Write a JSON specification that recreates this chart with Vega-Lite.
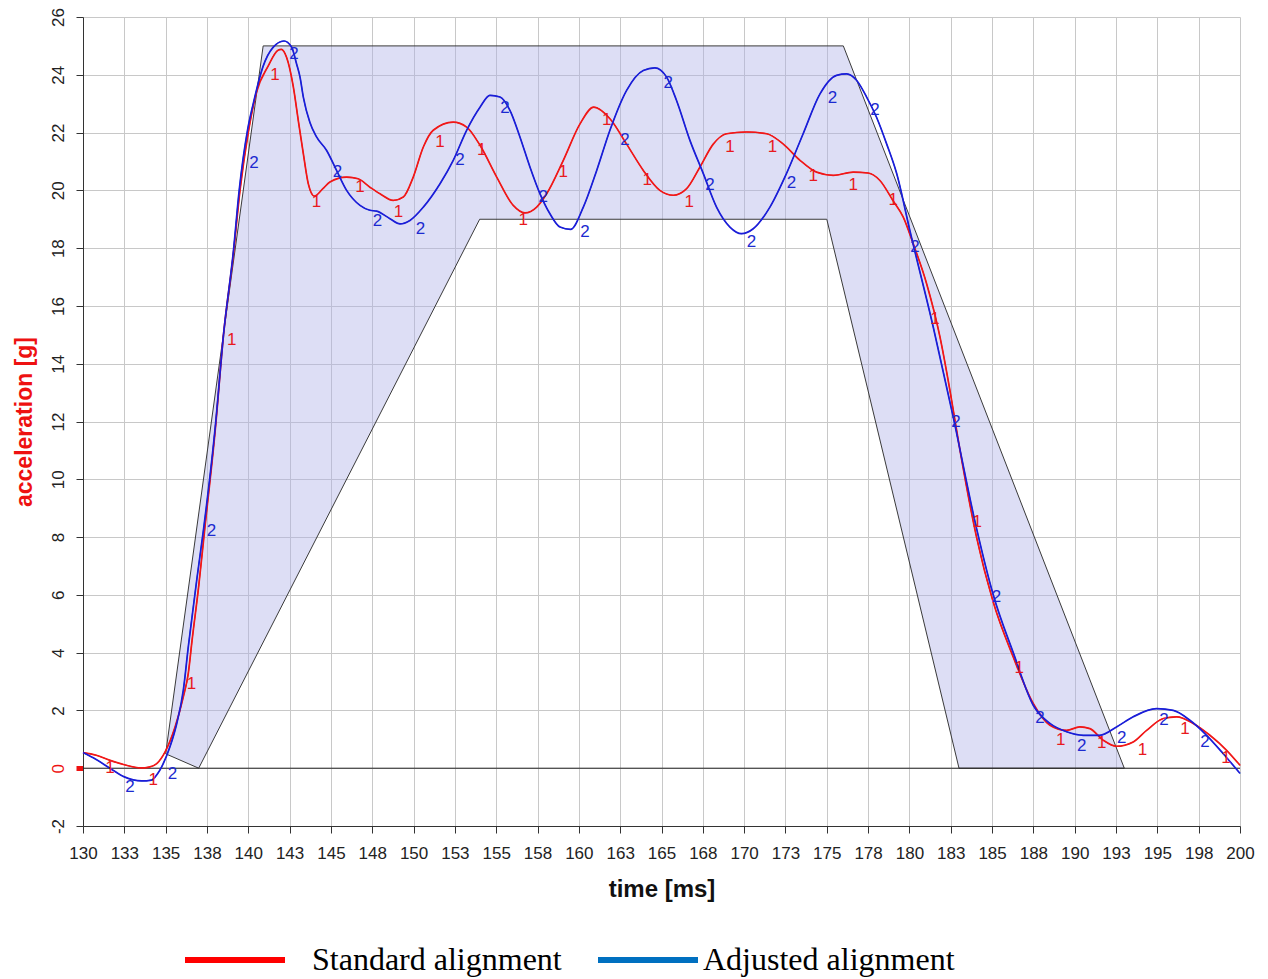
{
  "$schema": "https://vega.github.io/schema/vega-lite/v6.json",
  "width": 1157,
  "height": 809,
  "autosize": {"type": "none"},
  "padding": {"left": 83, "top": 17, "right": 28, "bottom": 153},
  "background": "white",
  "config": {"view": {"stroke": null}, "font": "Liberation Sans"},
  "datasets": {
    "corridor": [
      {"t": 135, "upper": 0.5, "lower": 0.5},
      {"t": 137, "upper": 8.8, "lower": 0},
      {"t": 140.9, "upper": 25, "lower": 4.36},
      {"t": 154, "upper": 25, "lower": 19},
      {"t": 175, "upper": 25, "lower": 19},
      {"t": 176, "upper": 25, "lower": 16.63},
      {"t": 183, "upper": 14.71, "lower": 0},
      {"t": 193, "upper": 0, "lower": 0}
    ],
    "outline": [
      {"i": 0, "t": 135, "a": 0.5},
      {"i": 1, "t": 140.9, "a": 25},
      {"i": 2, "t": 176, "a": 25},
      {"i": 3, "t": 193, "a": 0},
      {"i": 4, "t": 183, "a": 0},
      {"i": 5, "t": 175, "a": 19},
      {"i": 6, "t": 154, "a": 19},
      {"i": 7, "t": 137, "a": 0},
      {"i": 8, "t": 135, "a": 0.5}
    ],
    "curves": [
      {"series": "Standard alignment", "t": 130.0, "a": 0.54},
      {"series": "Standard alignment", "t": 130.8, "a": 0.45},
      {"series": "Standard alignment", "t": 131.6, "a": 0.28},
      {"series": "Standard alignment", "t": 132.5, "a": 0.12},
      {"series": "Standard alignment", "t": 133.5, "a": 0.01},
      {"series": "Standard alignment", "t": 134.0, "a": 0.04},
      {"series": "Standard alignment", "t": 134.46, "a": 0.16},
      {"series": "Standard alignment", "t": 134.96, "a": 0.56},
      {"series": "Standard alignment", "t": 135.57, "a": 1.43},
      {"series": "Standard alignment", "t": 136.07, "a": 2.47},
      {"series": "Standard alignment", "t": 136.37, "a": 3.28},
      {"series": "Standard alignment", "t": 136.6, "a": 4.43},
      {"series": "Standard alignment", "t": 137.0, "a": 6.3},
      {"series": "Standard alignment", "t": 137.35, "a": 8.2},
      {"series": "Standard alignment", "t": 138.0, "a": 11.7},
      {"series": "Standard alignment", "t": 138.5, "a": 15.0},
      {"series": "Standard alignment", "t": 139.1, "a": 17.8},
      {"series": "Standard alignment", "t": 139.5, "a": 20.0},
      {"series": "Standard alignment", "t": 140.0, "a": 22.0},
      {"series": "Standard alignment", "t": 140.5, "a": 23.4},
      {"series": "Standard alignment", "t": 141.2, "a": 24.3},
      {"series": "Standard alignment", "t": 141.8, "a": 24.85},
      {"series": "Standard alignment", "t": 142.0, "a": 24.88},
      {"series": "Standard alignment", "t": 142.32, "a": 24.6},
      {"series": "Standard alignment", "t": 142.72, "a": 23.6},
      {"series": "Standard alignment", "t": 143.03, "a": 22.4},
      {"series": "Standard alignment", "t": 143.33, "a": 21.27},
      {"series": "Standard alignment", "t": 143.63, "a": 20.23},
      {"series": "Standard alignment", "t": 144.0, "a": 19.8},
      {"series": "Standard alignment", "t": 144.5, "a": 20.05},
      {"series": "Standard alignment", "t": 144.94, "a": 20.29},
      {"series": "Standard alignment", "t": 145.95, "a": 20.46},
      {"series": "Standard alignment", "t": 146.65, "a": 20.4},
      {"series": "Standard alignment", "t": 147.36, "a": 20.11},
      {"series": "Standard alignment", "t": 147.97, "a": 19.88},
      {"series": "Standard alignment", "t": 148.77, "a": 19.65},
      {"series": "Standard alignment", "t": 149.38, "a": 19.77},
      {"series": "Standard alignment", "t": 149.98, "a": 20.46},
      {"series": "Standard alignment", "t": 150.59, "a": 21.5},
      {"series": "Standard alignment", "t": 151.19, "a": 22.08},
      {"series": "Standard alignment", "t": 152.4, "a": 22.36},
      {"series": "Standard alignment", "t": 153.21, "a": 22.19},
      {"series": "Standard alignment", "t": 154.02, "a": 21.56},
      {"series": "Standard alignment", "t": 155.03, "a": 20.46},
      {"series": "Standard alignment", "t": 156.03, "a": 19.48},
      {"series": "Standard alignment", "t": 156.74, "a": 19.22},
      {"series": "Standard alignment", "t": 157.45, "a": 19.42},
      {"series": "Standard alignment", "t": 158.05, "a": 19.88},
      {"series": "Standard alignment", "t": 159.06, "a": 21.04},
      {"series": "Standard alignment", "t": 160.07, "a": 22.3},
      {"series": "Standard alignment", "t": 160.9, "a": 22.88},
      {"series": "Standard alignment", "t": 161.88, "a": 22.48},
      {"series": "Standard alignment", "t": 162.89, "a": 21.6},
      {"series": "Standard alignment", "t": 163.9, "a": 20.69},
      {"series": "Standard alignment", "t": 164.9, "a": 20.0},
      {"series": "Standard alignment", "t": 165.71, "a": 19.83},
      {"series": "Standard alignment", "t": 166.52, "a": 20.06},
      {"series": "Standard alignment", "t": 167.33, "a": 20.81},
      {"series": "Standard alignment", "t": 168.13, "a": 21.6},
      {"series": "Standard alignment", "t": 168.94, "a": 21.96},
      {"series": "Standard alignment", "t": 170.15, "a": 22.02},
      {"series": "Standard alignment", "t": 171.36, "a": 21.96},
      {"series": "Standard alignment", "t": 172.37, "a": 21.6},
      {"series": "Standard alignment", "t": 173.38, "a": 21.04},
      {"series": "Standard alignment", "t": 174.38, "a": 20.63},
      {"series": "Standard alignment", "t": 175.39, "a": 20.52},
      {"series": "Standard alignment", "t": 176.6, "a": 20.63},
      {"series": "Standard alignment", "t": 177.5, "a": 20.6},
      {"series": "Standard alignment", "t": 178.2, "a": 20.35},
      {"series": "Standard alignment", "t": 179.0, "a": 19.65},
      {"series": "Standard alignment", "t": 179.62, "a": 19.08},
      {"series": "Standard alignment", "t": 180.23, "a": 18.15},
      {"series": "Standard alignment", "t": 181.04, "a": 16.77},
      {"series": "Standard alignment", "t": 181.85, "a": 14.92},
      {"series": "Standard alignment", "t": 182.45, "a": 13.08},
      {"series": "Standard alignment", "t": 183.06, "a": 11.0},
      {"series": "Standard alignment", "t": 184.06, "a": 8.0},
      {"series": "Standard alignment", "t": 185.07, "a": 5.75},
      {"series": "Standard alignment", "t": 186.28, "a": 3.85},
      {"series": "Standard alignment", "t": 187.49, "a": 2.24},
      {"series": "Standard alignment", "t": 188.5, "a": 1.49},
      {"series": "Standard alignment", "t": 189.51, "a": 1.31},
      {"series": "Standard alignment", "t": 190.31, "a": 1.43},
      {"series": "Standard alignment", "t": 190.92, "a": 1.37},
      {"series": "Standard alignment", "t": 191.72, "a": 0.97},
      {"series": "Standard alignment", "t": 192.53, "a": 0.76},
      {"series": "Standard alignment", "t": 193.54, "a": 0.91},
      {"series": "Standard alignment", "t": 194.35, "a": 1.31},
      {"series": "Standard alignment", "t": 195.36, "a": 1.72},
      {"series": "Standard alignment", "t": 196.17, "a": 1.78},
      {"series": "Standard alignment", "t": 197.17, "a": 1.55},
      {"series": "Standard alignment", "t": 198.18, "a": 1.14},
      {"series": "Standard alignment", "t": 199.19, "a": 0.62},
      {"series": "Standard alignment", "t": 200.0, "a": 0.1},
      {"series": "Adjusted alignment", "t": 130.0, "a": 0.54},
      {"series": "Adjusted alignment", "t": 130.8, "a": 0.3},
      {"series": "Adjusted alignment", "t": 131.63, "a": 0.0},
      {"series": "Adjusted alignment", "t": 132.5, "a": -0.3},
      {"series": "Adjusted alignment", "t": 133.55, "a": -0.44},
      {"series": "Adjusted alignment", "t": 134.15, "a": -0.41},
      {"series": "Adjusted alignment", "t": 134.5, "a": -0.2},
      {"series": "Adjusted alignment", "t": 134.76, "a": 0.05},
      {"series": "Adjusted alignment", "t": 135.26, "a": 0.74},
      {"series": "Adjusted alignment", "t": 135.67, "a": 1.54},
      {"series": "Adjusted alignment", "t": 136.07, "a": 2.7},
      {"series": "Adjusted alignment", "t": 136.37, "a": 4.2},
      {"series": "Adjusted alignment", "t": 136.9, "a": 6.6},
      {"series": "Adjusted alignment", "t": 137.3, "a": 8.3},
      {"series": "Adjusted alignment", "t": 138.0, "a": 11.8},
      {"series": "Adjusted alignment", "t": 138.5, "a": 15.0},
      {"series": "Adjusted alignment", "t": 139.1, "a": 17.9},
      {"series": "Adjusted alignment", "t": 139.45, "a": 20.0},
      {"series": "Adjusted alignment", "t": 139.96, "a": 22.1},
      {"series": "Adjusted alignment", "t": 140.3, "a": 23.0},
      {"series": "Adjusted alignment", "t": 140.9, "a": 24.3},
      {"series": "Adjusted alignment", "t": 141.5, "a": 24.95},
      {"series": "Adjusted alignment", "t": 142.16, "a": 25.17},
      {"series": "Adjusted alignment", "t": 142.62, "a": 24.96},
      {"series": "Adjusted alignment", "t": 142.92, "a": 24.38},
      {"series": "Adjusted alignment", "t": 143.13, "a": 23.92},
      {"series": "Adjusted alignment", "t": 143.33, "a": 23.23},
      {"series": "Adjusted alignment", "t": 143.73, "a": 22.35},
      {"series": "Adjusted alignment", "t": 144.13, "a": 21.85},
      {"series": "Adjusted alignment", "t": 144.74, "a": 21.38},
      {"series": "Adjusted alignment", "t": 145.34, "a": 20.69},
      {"series": "Adjusted alignment", "t": 145.95, "a": 20.0},
      {"series": "Adjusted alignment", "t": 146.76, "a": 19.48},
      {"series": "Adjusted alignment", "t": 147.36, "a": 19.31},
      {"series": "Adjusted alignment", "t": 147.77, "a": 19.28},
      {"series": "Adjusted alignment", "t": 148.57, "a": 19.02},
      {"series": "Adjusted alignment", "t": 149.18, "a": 18.84},
      {"series": "Adjusted alignment", "t": 149.78, "a": 18.96},
      {"series": "Adjusted alignment", "t": 150.59, "a": 19.42},
      {"series": "Adjusted alignment", "t": 151.6, "a": 20.23},
      {"series": "Adjusted alignment", "t": 152.4, "a": 21.04},
      {"series": "Adjusted alignment", "t": 153.21, "a": 22.08},
      {"series": "Adjusted alignment", "t": 154.02, "a": 22.88},
      {"series": "Adjusted alignment", "t": 154.62, "a": 23.29},
      {"series": "Adjusted alignment", "t": 155.23, "a": 23.23},
      {"series": "Adjusted alignment", "t": 155.83, "a": 22.77},
      {"series": "Adjusted alignment", "t": 156.44, "a": 21.84},
      {"series": "Adjusted alignment", "t": 157.04, "a": 20.81},
      {"series": "Adjusted alignment", "t": 157.65, "a": 19.88},
      {"series": "Adjusted alignment", "t": 158.25, "a": 19.19},
      {"series": "Adjusted alignment", "t": 158.86, "a": 18.73},
      {"series": "Adjusted alignment", "t": 159.5, "a": 18.65},
      {"series": "Adjusted alignment", "t": 160.27, "a": 19.42},
      {"series": "Adjusted alignment", "t": 161.08, "a": 20.69},
      {"series": "Adjusted alignment", "t": 161.88, "a": 22.08},
      {"series": "Adjusted alignment", "t": 162.89, "a": 23.46},
      {"series": "Adjusted alignment", "t": 163.9, "a": 24.15},
      {"series": "Adjusted alignment", "t": 164.6, "a": 24.24},
      {"series": "Adjusted alignment", "t": 165.31, "a": 23.92},
      {"series": "Adjusted alignment", "t": 165.91, "a": 23.11},
      {"series": "Adjusted alignment", "t": 166.72, "a": 21.73},
      {"series": "Adjusted alignment", "t": 167.53, "a": 20.58},
      {"series": "Adjusted alignment", "t": 168.33, "a": 19.42},
      {"series": "Adjusted alignment", "t": 169.14, "a": 18.73},
      {"series": "Adjusted alignment", "t": 169.84, "a": 18.5},
      {"series": "Adjusted alignment", "t": 170.55, "a": 18.67},
      {"series": "Adjusted alignment", "t": 171.56, "a": 19.42},
      {"series": "Adjusted alignment", "t": 172.56, "a": 20.58},
      {"series": "Adjusted alignment", "t": 173.57, "a": 21.96},
      {"series": "Adjusted alignment", "t": 174.59, "a": 23.34},
      {"series": "Adjusted alignment", "t": 175.59, "a": 23.98},
      {"series": "Adjusted alignment", "t": 176.2, "a": 24.03},
      {"series": "Adjusted alignment", "t": 176.8, "a": 23.81},
      {"series": "Adjusted alignment", "t": 177.41, "a": 23.23},
      {"series": "Adjusted alignment", "t": 178.01, "a": 22.53},
      {"series": "Adjusted alignment", "t": 178.62, "a": 21.61},
      {"series": "Adjusted alignment", "t": 179.22, "a": 20.6},
      {"series": "Adjusted alignment", "t": 180.03, "a": 18.6},
      {"series": "Adjusted alignment", "t": 181.44, "a": 15.27},
      {"series": "Adjusted alignment", "t": 182.65, "a": 12.15},
      {"series": "Adjusted alignment", "t": 184.06, "a": 8.3},
      {"series": "Adjusted alignment", "t": 185.07, "a": 6.0},
      {"series": "Adjusted alignment", "t": 186.28, "a": 4.0},
      {"series": "Adjusted alignment", "t": 187.49, "a": 2.18},
      {"series": "Adjusted alignment", "t": 188.5, "a": 1.55},
      {"series": "Adjusted alignment", "t": 189.51, "a": 1.26},
      {"series": "Adjusted alignment", "t": 190.52, "a": 1.14},
      {"series": "Adjusted alignment", "t": 191.52, "a": 1.14},
      {"series": "Adjusted alignment", "t": 192.53, "a": 1.43},
      {"series": "Adjusted alignment", "t": 193.54, "a": 1.78},
      {"series": "Adjusted alignment", "t": 194.95, "a": 2.06},
      {"series": "Adjusted alignment", "t": 195.96, "a": 2.0},
      {"series": "Adjusted alignment", "t": 196.97, "a": 1.66},
      {"series": "Adjusted alignment", "t": 197.98, "a": 1.14},
      {"series": "Adjusted alignment", "t": 198.99, "a": 0.5},
      {"series": "Adjusted alignment", "t": 200.0, "a": -0.18}
    ],
    "labels": [
      {"series": "Standard alignment", "label": "1", "t": 131.63, "a": 0.01},
      {"series": "Standard alignment", "label": "1", "t": 134.25, "a": -0.42},
      {"series": "Standard alignment", "label": "1", "t": 136.57, "a": 2.93},
      {"series": "Standard alignment", "label": "1", "t": 139.0, "a": 14.83},
      {"series": "Standard alignment", "label": "1", "t": 141.62, "a": 23.98},
      {"series": "Standard alignment", "label": "1", "t": 144.13, "a": 19.6},
      {"series": "Standard alignment", "label": "1", "t": 146.76, "a": 20.11},
      {"series": "Standard alignment", "label": "1", "t": 149.08, "a": 19.25},
      {"series": "Standard alignment", "label": "1", "t": 151.6, "a": 21.67},
      {"series": "Standard alignment", "label": "1", "t": 154.12, "a": 21.38},
      {"series": "Standard alignment", "label": "1", "t": 156.64, "a": 18.96},
      {"series": "Standard alignment", "label": "1", "t": 159.06, "a": 20.63},
      {"series": "Standard alignment", "label": "1", "t": 161.68, "a": 22.42},
      {"series": "Standard alignment", "label": "1", "t": 164.14, "a": 20.35},
      {"series": "Standard alignment", "label": "1", "t": 166.68, "a": 19.6},
      {"series": "Standard alignment", "label": "1", "t": 169.14, "a": 21.5},
      {"series": "Standard alignment", "label": "1", "t": 171.72, "a": 21.5},
      {"series": "Standard alignment", "label": "1", "t": 174.18, "a": 20.48},
      {"series": "Standard alignment", "label": "1", "t": 176.6, "a": 20.17},
      {"series": "Standard alignment", "label": "1", "t": 179.02, "a": 19.65},
      {"series": "Standard alignment", "label": "1", "t": 181.54, "a": 15.56},
      {"series": "Standard alignment", "label": "1", "t": 184.1, "a": 8.52},
      {"series": "Standard alignment", "label": "1", "t": 186.64, "a": 3.47},
      {"series": "Standard alignment", "label": "1", "t": 189.15, "a": 0.97},
      {"series": "Standard alignment", "label": "1", "t": 191.63, "a": 0.88},
      {"series": "Standard alignment", "label": "1", "t": 194.1, "a": 0.62},
      {"series": "Standard alignment", "label": "1", "t": 196.67, "a": 1.37},
      {"series": "Standard alignment", "label": "1", "t": 199.15, "a": 0.37},
      {"series": "Adjusted alignment", "label": "2", "t": 132.84, "a": -0.65},
      {"series": "Adjusted alignment", "label": "2", "t": 135.42, "a": -0.21},
      {"series": "Adjusted alignment", "label": "2", "t": 137.78, "a": 8.21},
      {"series": "Adjusted alignment", "label": "2", "t": 140.34, "a": 20.95},
      {"series": "Adjusted alignment", "label": "2", "t": 142.76, "a": 24.72},
      {"series": "Adjusted alignment", "label": "2", "t": 145.39, "a": 20.63},
      {"series": "Adjusted alignment", "label": "2", "t": 147.82, "a": 18.93},
      {"series": "Adjusted alignment", "label": "2", "t": 150.42, "a": 18.67},
      {"series": "Adjusted alignment", "label": "2", "t": 152.81, "a": 21.06},
      {"series": "Adjusted alignment", "label": "2", "t": 155.53, "a": 22.86},
      {"series": "Adjusted alignment", "label": "2", "t": 157.85, "a": 19.77},
      {"series": "Adjusted alignment", "label": "2", "t": 160.37, "a": 18.56},
      {"series": "Adjusted alignment", "label": "2", "t": 162.79, "a": 21.75},
      {"series": "Adjusted alignment", "label": "2", "t": 165.41, "a": 23.7},
      {"series": "Adjusted alignment", "label": "2", "t": 167.93, "a": 20.17},
      {"series": "Adjusted alignment", "label": "2", "t": 170.45, "a": 18.21},
      {"series": "Adjusted alignment", "label": "2", "t": 172.87, "a": 20.25},
      {"series": "Adjusted alignment", "label": "2", "t": 175.35, "a": 23.2},
      {"series": "Adjusted alignment", "label": "2", "t": 177.91, "a": 22.77},
      {"series": "Adjusted alignment", "label": "2", "t": 180.33, "a": 18.04},
      {"series": "Adjusted alignment", "label": "2", "t": 182.81, "a": 11.98},
      {"series": "Adjusted alignment", "label": "2", "t": 185.27, "a": 5.93},
      {"series": "Adjusted alignment", "label": "2", "t": 187.9, "a": 1.75},
      {"series": "Adjusted alignment", "label": "2", "t": 190.42, "a": 0.76},
      {"series": "Adjusted alignment", "label": "2", "t": 192.84, "a": 1.06},
      {"series": "Adjusted alignment", "label": "2", "t": 195.4, "a": 1.66},
      {"series": "Adjusted alignment", "label": "2", "t": 197.88, "a": 0.91}
    ]
  },
  "layer": [
    {
      "data": {"name": "corridor"},
      "mark": {"type": "area", "fill": "#aeb0e6", "fillOpacity": 0.42, "stroke": null},
      "encoding": {
        "x": {
          "field": "t", "type": "quantitative",
          "scale": {"domain": [130, 200], "nice": false, "zero": false},
          "axis": {
            "values": [130, 132.5, 135, 137.5, 140, 142.5, 145, 147.5, 150, 152.5, 155, 157.5, 160, 162.5, 165, 167.5, 170, 172.5, 175, 177.5, 180, 182.5, 185, 187.5, 190, 192.5, 195, 197.5, 200],
            "format": ".0f",
            "title": "time [ms]",
            "titleFontSize": 24, "titleFontWeight": "bold", "titleColor": "#111111", "titlePadding": 16,
            "labelFontSize": 17, "labelColor": "#222222", "labelPadding": 12,
            "labelFlush": false, "labelOverlap": false,
            "tickSize": 7, "tickColor": "#333333", "domainColor": "#333333",
            "gridColor": "#c8c8c8", "gridWidth": 1
          }
        },
        "y": {
          "field": "upper", "type": "quantitative",
          "scale": {"domain": [-2, 26], "nice": false, "zero": false},
          "axis": {
            "values": [-2, 0, 2, 4, 6, 8, 10, 12, 14, 16, 18, 20, 22, 24, 26],
            "labelExpr": "replace(datum.label, '\u2212', '-')",
            "title": "acceleration [g]",
            "titleFontSize": 23, "titleFontWeight": "bold", "titleColor": "#ee1111", "titlePadding": 13,
            "labelAngle": -90, "labelAlign": "center", "labelBaseline": "bottom",
            "labelFontSize": 17, "labelPadding": 9,
            "labelColor": {"condition": {"test": "datum.value === 0", "value": "#ee1111"}, "value": "#222222"},
            "tickColor": {"condition": {"test": "datum.value === 0", "value": "#ee1111"}, "value": "#333333"},
            "tickWidth": {"condition": {"test": "datum.value === 0", "value": 5}, "value": 1},
            "tickSize": 7, "domainColor": "#333333",
            "gridColor": "#c8c8c8", "gridWidth": 1
          }
        },
        "y2": {"field": "lower"}
      }
    },
    {
      "data": {"name": "outline"},
      "mark": {"type": "line", "stroke": "#3a3a3a", "strokeWidth": 1},
      "encoding": {
        "x": {"field": "t", "type": "quantitative"},
        "y": {"field": "a", "type": "quantitative"},
        "order": {"field": "i", "type": "quantitative"}
      }
    },
    {
      "data": {"values": [{}]},
      "mark": {"type": "rule", "stroke": "#222222", "strokeWidth": 1},
      "encoding": {"y": {"datum": 0}}
    },
    {
      "data": {"name": "curves"},
      "mark": {"type": "line", "strokeWidth": 1, "interpolate": "monotone"},
      "encoding": {
        "x": {"field": "t", "type": "quantitative"},
        "y": {"field": "a", "type": "quantitative"},
        "color": {
          "field": "series", "type": "nominal",
          "sort": ["Standard alignment", "Adjusted alignment"],
          "scale": {"domain": ["Standard alignment", "Adjusted alignment"], "range": ["#ff0000", "#0070c0"]},
          "legend": {
            "orient": "none", "legendX": 99, "legendY": 890,
            "direction": "horizontal", "title": null,
            "symbolType": "stroke", "symbolSize": 10000, "symbolStrokeWidth": 6,
            "labelFont": "Liberation Serif", "labelFontSize": 32, "labelColor": "#000000",
            "labelOffset": 2, "columnPadding": 24, "labelLimit": 0, "padding": 0,
            "encode": {
              "labels": {"update": {"dx": {"signal": "datum.value === 'Standard alignment' ? 22 : 0"}}}
            }
          }
        }
      }
    },
    {
      "data": {"name": "curves"},
      "transform": [{"filter": "datum.series === 'Standard alignment'"}],
      "mark": {"type": "line", "stroke": "#f01818", "strokeWidth": 1.7, "interpolate": "monotone"},
      "encoding": {
        "x": {"field": "t", "type": "quantitative"},
        "y": {"field": "a", "type": "quantitative"}
      }
    },
    {
      "data": {"name": "curves"},
      "transform": [{"filter": "datum.series === 'Adjusted alignment'"}],
      "mark": {"type": "line", "stroke": "#1c1cd8", "strokeWidth": 1.7, "interpolate": "monotone"},
      "encoding": {
        "x": {"field": "t", "type": "quantitative"},
        "y": {"field": "a", "type": "quantitative"}
      }
    },
    {
      "data": {"name": "labels"},
      "transform": [{"filter": "datum.series === 'Standard alignment'"}],
      "mark": {"type": "text", "fontSize": 17, "font": "Liberation Sans", "color": "#e8191e", "align": "center", "baseline": "middle"},
      "encoding": {
        "x": {"field": "t", "type": "quantitative"},
        "y": {"field": "a", "type": "quantitative"},
        "text": {"field": "label"}
      }
    },
    {
      "data": {"name": "labels"},
      "transform": [{"filter": "datum.series === 'Adjusted alignment'"}],
      "mark": {"type": "text", "fontSize": 17, "font": "Liberation Sans", "color": "#1c2ad0", "align": "center", "baseline": "middle"},
      "encoding": {
        "x": {"field": "t", "type": "quantitative"},
        "y": {"field": "a", "type": "quantitative"},
        "text": {"field": "label"}
      }
    }
  ]
}
